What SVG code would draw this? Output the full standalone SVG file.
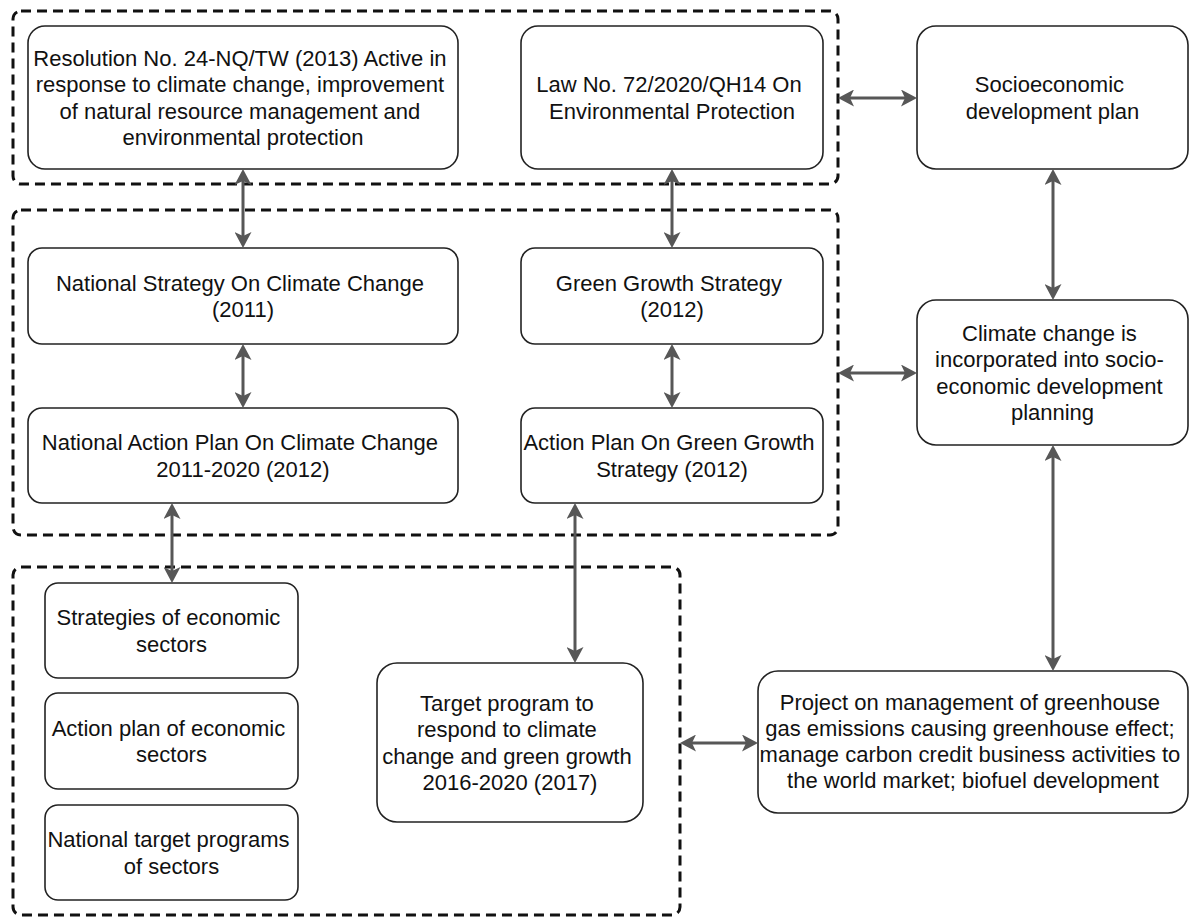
<svg xmlns="http://www.w3.org/2000/svg" width="1193" height="918" viewBox="0 0 1193 918">
  <defs>
    <style>
      .grp { fill: none; stroke: #111; stroke-width: 3; stroke-dasharray: 10 6; }
      .box { fill: #fff; stroke: #222; stroke-width: 1.6; }
      .lbl { font-family: "Liberation Sans", Arial, Helvetica, sans-serif; font-size: 22px; fill: #111; text-anchor: middle; }
      .link { fill: none; stroke: #575757; stroke-width: 3; marker-start: url(#arrow); marker-end: url(#arrow); }
    </style>
    <marker id="arrow" markerUnits="userSpaceOnUse" markerWidth="17" markerHeight="17" refX="11" refY="8.5" orient="auto-start-reverse">
      <path d="M0,0 L16,8.5 L0,17 L4,8.5 Z" fill="#575757"/>
    </marker>
  </defs>

  <!-- dashed groupings -->
  <g id="group-policy">
    <rect class="grp" x="13" y="11" width="825" height="173" rx="8"/>
  </g>
  <g id="group-strategy">
    <rect class="grp" x="13" y="210" width="825" height="325" rx="8"/>
  </g>
  <g id="group-sectors">
    <rect class="grp" x="13" y="567" width="667" height="348" rx="8"/>
  </g>

  <!-- nodes -->
  <g id="resolution">
    <rect class="box" x="28" y="26" width="430" height="143" rx="17"/>
    <text class="lbl">
      <tspan x="243" y="66">Resolution No. 24-NQ/TW (2013) Active in</tspan>
      <tspan x="243" y="92.3">response to climate change, improvement</tspan>
      <tspan x="243" y="118.6">of natural resource management and</tspan>
      <tspan x="243" y="144.9">environmental protection</tspan>
    </text>
  </g>
  <g id="law">
    <rect class="box" x="521" y="26" width="302" height="143" rx="17"/>
    <text class="lbl">
      <tspan x="672" y="92.4">Law No. 72/2020/QH14 On</tspan>
      <tspan x="672" y="118.7">Environmental Protection</tspan>
    </text>
  </g>
  <g id="socioeconomic-plan">
    <rect class="box" x="917" y="26" width="271" height="143" rx="19"/>
    <text class="lbl">
      <tspan x="1052.5" y="92.4">Socioeconomic</tspan>
      <tspan x="1052.5" y="118.7">development plan</tspan>
    </text>
  </g>
  <g id="national-strategy">
    <rect class="box" x="28" y="248" width="430" height="96" rx="14"/>
    <text class="lbl">
      <tspan x="243" y="290.9">National Strategy On Climate Change</tspan>
      <tspan x="243" y="317.2">(2011)</tspan>
    </text>
  </g>
  <g id="green-growth-strategy">
    <rect class="box" x="521" y="248" width="302" height="96" rx="14"/>
    <text class="lbl">
      <tspan x="672" y="290.9">Green Growth Strategy</tspan>
      <tspan x="672" y="317.2">(2012)</tspan>
    </text>
  </g>
  <g id="climate-planning">
    <rect class="box" x="917" y="300" width="271" height="145" rx="19"/>
    <text class="lbl">
      <tspan x="1052.5" y="341">Climate change is</tspan>
      <tspan x="1052.5" y="367.3">incorporated into socio-</tspan>
      <tspan x="1052.5" y="393.6">economic development</tspan>
      <tspan x="1052.5" y="419.9">planning</tspan>
    </text>
  </g>
  <g id="national-action-plan">
    <rect class="box" x="28" y="408" width="430" height="95" rx="14"/>
    <text class="lbl">
      <tspan x="243" y="450.4">National Action Plan On Climate Change</tspan>
      <tspan x="243" y="476.7">2011-2020 (2012)</tspan>
    </text>
  </g>
  <g id="green-growth-action-plan">
    <rect class="box" x="521" y="408" width="302" height="95" rx="14"/>
    <text class="lbl">
      <tspan x="672" y="450.4">Action Plan On Green Growth</tspan>
      <tspan x="672" y="476.7">Strategy (2012)</tspan>
    </text>
  </g>
  <g id="sector-strategies">
    <rect class="box" x="45" y="583" width="253" height="95" rx="13"/>
    <text class="lbl">
      <tspan x="171.5" y="625.4">Strategies of economic</tspan>
      <tspan x="171.5" y="651.7">sectors</tspan>
    </text>
  </g>
  <g id="sector-action-plans">
    <rect class="box" x="45" y="693" width="253" height="96" rx="13"/>
    <text class="lbl">
      <tspan x="171.5" y="735.9">Action plan of economic</tspan>
      <tspan x="171.5" y="762.2">sectors</tspan>
    </text>
  </g>
  <g id="sector-target-programs">
    <rect class="box" x="45" y="805" width="253" height="95" rx="13"/>
    <text class="lbl">
      <tspan x="171.5" y="847.4">National target programs</tspan>
      <tspan x="171.5" y="873.7">of sectors</tspan>
    </text>
  </g>
  <g id="target-program">
    <rect class="box" x="377" y="663" width="266" height="159" rx="20"/>
    <text class="lbl">
      <tspan x="510" y="711">Target program to</tspan>
      <tspan x="510" y="737.3">respond to climate</tspan>
      <tspan x="510" y="763.6">change and green growth</tspan>
      <tspan x="510" y="789.9">2016-2020 (2017)</tspan>
    </text>
  </g>
  <g id="emissions-project">
    <rect class="box" x="758" y="671" width="430" height="142" rx="20"/>
    <text class="lbl">
      <tspan x="973" y="709.5">Project on management of greenhouse</tspan>
      <tspan x="973" y="735.8">gas emissions causing greenhouse effect;</tspan>
      <tspan x="973" y="762.1">manage carbon credit business activities to</tspan>
      <tspan x="973" y="788.4">the world market; biofuel development</tspan>
    </text>
  </g>

  <!-- two-way connectors (ends inset so the arrow tips land on the edges) -->
  <g id="connectors">
    <path class="link" d="M243,174 L243,243"/>
    <path class="link" d="M672,174 L672,243"/>
    <path class="link" d="M243,349 L243,403"/>
    <path class="link" d="M672,349 L672,403"/>
    <path class="link" d="M172,508 L172,578"/>
    <path class="link" d="M575,508 L575,658"/>
    <path class="link" d="M843,98 L912,98"/>
    <path class="link" d="M843,373 L912,373"/>
    <path class="link" d="M1053,174 L1053,295"/>
    <path class="link" d="M1053,450 L1053,666"/>
    <path class="link" d="M685,743 L753,743"/>
  </g>
</svg>
